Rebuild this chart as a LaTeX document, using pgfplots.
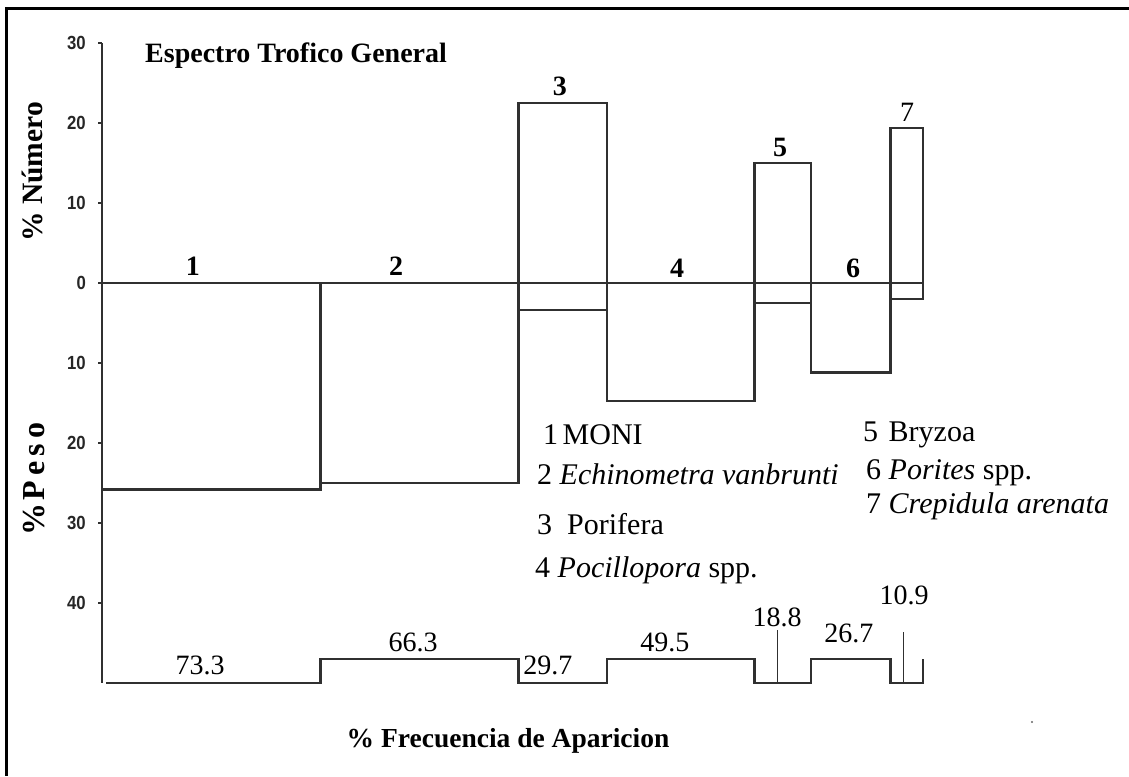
\documentclass[border=0pt]{standalone}
\usepackage{fontspec}
\setmainfont{Liberation Serif}
\newfontfamily\tickfont{Liberation Sans}[FakeStretch=0.88]
\usepackage{pgfplots}
\pgfplotsset{compat=1.18}
\definecolor{linecol}{HTML}{303030}
\begin{document}
\begin{tikzpicture}[x=1pt,y=1pt]
\useasboundingbox (0,0) rectangle (1129,776);
\fill[black] (5,0) rectangle (8,769);
\fill[black] (5,766) rectangle (1129,769);
\begin{axis}[
  at={(102pt,93pt)}, anchor=south west,
  x=2.983pt, y=8pt,
  xmin=0, xmax=275.2, ymin=-50, ymax=30,
  hide x axis, axis y line*=left,
  ytick={-40,-30,-20,-10,0,10,20,30},
  yticklabels={40,30,20,10,0,10,20,30},
  tick align=outside, major tick length=4pt,
  y axis line style={line width=2.6pt, color=linecol},
  ytick style={line width=2pt, color=linecol},
  yticklabel style={font=\tickfont\bfseries\fontsize{19}{19}\selectfont, color=black!85, inner sep=0pt, anchor=east, xshift=-12pt},
  clip=false,
  bar/.style={draw=linecol, line width=2.4pt, mark=none, solid, line join=miter},
  thin/.style={draw=linecol, line width=1.4pt, mark=none, solid},
]
% zero line
\addplot[bar] coordinates {(0,0) (275.2,0)};
% % Numero (upper bars)
\addplot[bar] coordinates {(139.6,0) (139.6,22.5) (169.3,22.5) (169.3,0)};
\addplot[bar] coordinates {(218.8,0) (218.8,15.0) (237.6,15.0) (237.6,0)};
\addplot[bar] coordinates {(264.3,0) (264.3,19.4) (275.2,19.4) (275.2,0)};
% % Peso (lower bars)
\addplot[bar] coordinates {(0,0) (0,-25.8) (73.3,-25.8) (73.3,0)};
\addplot[bar] coordinates {(73.3,-25.0) (139.6,-25.0) (139.6,0)};
\addplot[bar] coordinates {(139.6,-3.4) (169.3,-3.4)};
\addplot[bar] coordinates {(169.3,0) (169.3,-14.75) (218.8,-14.75) (218.8,0)};
\addplot[bar] coordinates {(218.8,-2.5) (237.6,-2.5)};
\addplot[bar] coordinates {(237.6,0) (237.6,-11.2) (264.3,-11.2) (264.3,0)};
\addplot[bar] coordinates {(264.3,-2.0) (275.2,-2.0) (275.2,0)};
% % Frecuencia de aparicion (step line)
\addplot[bar, const plot mark left] coordinates {(1.5,-50) (73.3,-47) (139.6,-50) (169.3,-47) (218.8,-50) (237.6,-47) (264.3,-50) (275.2,-47)};
\addplot[thin] coordinates {(226.5,-50) (226.5,-43.4)};
\addplot[thin] coordinates {(268.7,-50) (268.7,-43.6)};
% bar numbers
\begin{scope}[every node/.style={inner sep=0pt, anchor=south, font=\bfseries\fontsize{28}{28}\selectfont}]
\node at (axis cs:30.5,0.9) {1};
\node at (axis cs:98.6,0.9) {2};
\node at (axis cs:153.5,23.4) {3};
\node at (axis cs:192.8,0.6) {4};
\node at (axis cs:227.3,15.75) {5};
\node at (axis cs:251.8,0.6) {6};
\node[font=\fontsize{28}{28}\selectfont] at (axis cs:269.9,20.1) {7};
\end{scope}
% frequency values
\begin{scope}[every node/.style={inner sep=0pt, anchor=south, font=\fontsize{28}{28}\selectfont}]
\node at (axis cs:32.9,-49.0) {73.3};
\node at (axis cs:104.3,-46.1) {66.3};
\node at (axis cs:149.5,-49.0) {29.7};
\node at (axis cs:188.7,-46.1) {49.5};
\node at (axis cs:226.3,-43.0) {18.8};
\node at (axis cs:250.4,-45.0) {26.7};
\node at (axis cs:268.9,-40.25) {10.9};
\end{scope}
\end{axis}
% titles
\node[anchor=base west, inner sep=0pt, font=\bfseries\fontsize{28}{28}\selectfont] at (145,713) {Espectro Trofico General};
\node[anchor=base, inner sep=0pt, font=\bfseries\fontsize{27.5}{28}\selectfont] at (508,29) {\% Frecuencia de Aparicion};
\node[rotate=90, inner sep=0pt, font=\bfseries\fontsize{29.5}{30}\selectfont] at (32,604) {\% Número};
\node[rotate=90, inner sep=0pt, font=\bfseries\fontsize{32}{32}\selectfont] at (34,297) {\%\hspace{3pt}P\hspace{5pt}e\hspace{5pt}s\hspace{5pt}o};
% legend
\begin{scope}[every node/.style={inner sep=0pt, anchor=base west, font=\fontsize{30}{30}\selectfont}]
\node at (543,331) {1\hspace{0.15em}MONI};
\node at (537,291) {2 \textit{Echinometra vanbrunti}};
\node at (537,241) {3\hspace{0.5em}Porifera};
\node at (535,198) {4 \textit{Pocillopora} spp.};
\node at (863,334) {5\hspace{0.35em}Bryzoa};
\node at (866,296) {6 \textit{Porites} spp.};
\node at (866,262) {7 \textit{Crepidula arenata}};
\end{scope}
\fill[black!60] (1032,54) circle (1.2);
\end{tikzpicture}
\end{document}
